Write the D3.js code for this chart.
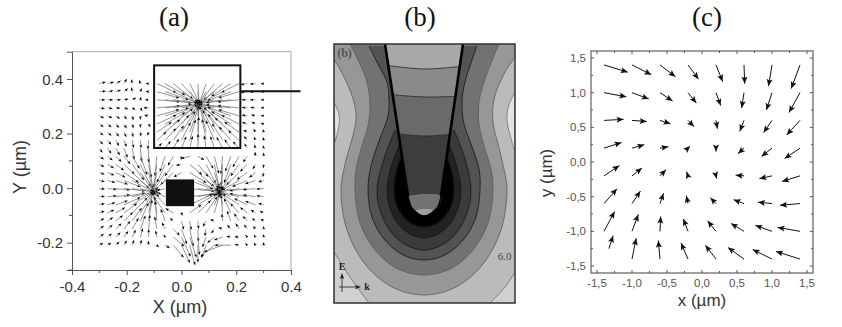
<!DOCTYPE html>
<html><head><meta charset="utf-8">
<script src="https://cdn.jsdelivr.net/npm/d3@7"></script>
<style>html,body{margin:0;padding:0;background:#fff}svg{display:block}</style>
</head><body><svg id="c" width="842" height="327" xmlns="http://www.w3.org/2000/svg"></svg>
<script>
// ---------- panel titles ----------
const panelTitles = ["(a)", "(b)", "(c)"];

// ---------- panel (a) data ----------
const aTicks = [-0.4, -0.2, 0, 0.2, 0.4];
const aTicksY = [-0.2, 0, 0.2, 0.4];
const aLabelsX = ["-0.4", "-0.2", "0.0", "0.2", "0.4"];
const aLabelsY = ["-0.2", "0.0", "0.2", "0.4"];
const aGridX = d3.range(21).map(i => -0.3 + i * 0.03);
const aGridY = d3.range(21).map(j => 0.383 - j * 0.0296);
// arrow direction (degrees, counter-clockwise from +X), row by row from the top
const aAngle = [
[15,15,30,60,100,110,180,-25,-30,-38,-48,-63,-87,-109,-127,-139,-147,-153,190,185,180],
[5,10,20,40,100,70,175,-16,-19,-25,-34,-50,-85,-120,-141,-152,-159,-163,185,182,180],
[0,0,0,10,30,80,180,-5,-7,-9,-13,-22,-76,-150,-165,-170,-173,-174,180,180,180],
[-10,-10,-5,-15,-30,-60,180,5,7,9,13,22,76,150,165,170,173,174,175,175,175],
[-25,-25,-35,-50,-75,-90,170,16,19,25,34,50,85,120,141,152,159,163,170,165,170],
[-35,-40,-50,-60,-75,-90,-60,25,30,38,48,63,87,109,127,139,147,153,160,150,160],
[-40,-45,-55,-65,-80,-85,-110,34,40,47,57,70,88,104,118,129,138,145,150,120,105],
[-50,-50,-60,-70,-80,-85,-95,41,47,54,63,74,88,101,113,122,131,138,130,115,100],
[-55,-55,-60,-70,-80,-85,-90,46,52,59,68,77,89,99,108,118,125,132,120,105,95],
[-33,-38,-44,-51,-59,-70,-83,-96,-109,-120,-95,-165,-30,-60,-75,-95,-110,-120,-125,95,90],
[-27,-31,-36,-43,-53,-65,-80,-98,-114,-126,-170,-40,-50,-63,-78,-94,-110,-125,-135,-120,-95],
[-20,-23,-27,-34,-43,-56,-77,-102,-122,-136,-150,-32,-41,-54,-73,-96,-117,-135,-145,-140,-100],
[-12,-14,-17,-21,-28,-41,-68,-110,-137,0,0,-20,-27,-39,-62,-100,-132,-150,-158,-162,-165],
[-3,-4,-5,-6,-9,-14,-35,-141,-165,0,0,-6,-8,-13,-28,-122,-162,-170,-173,-175,-176],
[5,6,8,10,13,21,48,129,157,0,0,6,13,20,40,110,153,165,170,172,173],
[13,16,19,24,32,45,71,107,133,0,0,25,31,43,65,99,128,146,154,160,163],
[21,25,30,36,45,58,78,101,125,150,-70,35,44,56,74,95,115,132,142,149,154],
[28,33,38,45,54,66,81,95,110,140,-75,-80,-85,-120,160,95,110,123,133,140,146],
[35,40,45,52,60,70,85,100,115,-45,-70,-78,-88,-100,-125,160,130,120,125,130,90],
[35,40,45,55,65,75,90,100,120,-40,-65,-72,-85,-110,-140,-160,170,175,130,120,90],
[30,35,45,60,70,80,95,-45,-30,-50,-65,-75,-90,-110,-140,-160,180,170,135,120,90]
];
// arrow length (thousandths of a micron), 0 where no arrow is visible
const aLength = [
[18,18,16,15,12,10,8,60,65,70,75,75,70,70,75,70,65,55,18,15,8],
[18,16,15,14,12,10,8,65,70,75,70,55,45,55,70,75,70,60,18,15,8],
[16,15,14,12,12,8,10,65,75,75,60,35,15,35,60,75,70,60,15,15,8],
[15,14,12,12,10,10,14,65,75,75,60,35,15,35,60,75,70,60,15,14,8],
[14,14,14,12,12,10,12,65,70,75,70,55,45,55,70,75,70,60,15,12,8],
[14,14,14,14,12,10,10,60,65,70,75,75,70,70,75,70,65,55,15,12,8],
[14,15,15,15,14,12,10,50,55,65,70,75,75,75,70,65,60,50,12,10,8],
[15,16,18,20,22,22,25,35,45,50,55,60,65,60,60,55,50,40,14,10,8],
[15,18,22,28,32,38,40,20,25,30,35,35,40,35,35,35,30,25,15,10,8],
[15,18,22,28,40,55,60,55,45,30,10,25,20,40,50,50,45,35,20,12,10],
[15,20,28,40,55,70,70,65,55,40,15,45,45,60,65,60,55,40,28,15,10],
[15,20,30,50,65,75,60,55,65,50,25,55,60,60,50,50,55,50,35,22,12],
[15,22,35,50,70,70,40,40,50,0,0,70,65,55,25,25,55,55,45,30,15],
[15,25,40,60,75,60,15,20,40,0,0,70,65,45,12,8,45,60,50,35,20],
[15,25,40,60,75,60,15,25,40,0,0,70,65,45,15,15,45,60,50,35,20],
[15,22,35,50,70,70,45,45,50,0,0,70,60,55,40,35,55,55,40,30,15],
[15,20,30,45,60,70,65,60,55,25,8,40,50,55,55,50,45,35,25,15,12],
[15,18,25,35,45,55,60,55,35,12,25,25,22,18,12,20,30,25,18,12,10],
[15,18,22,28,35,40,40,35,20,25,45,50,35,20,15,12,15,18,15,10,8],
[15,15,18,20,22,25,22,18,8,40,60,60,50,30,25,25,12,12,8,8,8],
[12,12,14,15,15,15,12,8,15,45,55,58,48,38,50,55,45,12,8,8,8]
];
const aLengthGain = 1.3;
const aBox = {x0: -0.1, x1: 0.215, y0: 0.147, y1: 0.45};
const aLeader = {x0: 0.215, x1: 0.435, y: 0.355};
const aBlock = {x0: -0.057, x1: 0.046, y0: -0.066, y1: 0.032};

// ---------- panel (b) contour lines, in frame units ----------
const bCornerL = [[0,208],[18,236],[35,259]];
const bCornerR = [[156,259],[171,243],[181,228]];
const bLobeL = [[0,58],[5,71],[5,81],[1,98]];
const bLobeR = [[181,48],[175,61],[173,75],[178,98],[181,108]];
const bK2 = [[0,15],[11,35],[20,58],[22,75],[18,95],[11,120],[7,146],[13,186],[31,220],[58,243],[90,251],[122,243],[149,220],[167,186],[173,146],[170,125],[164,100],[159,78],[160,55],[170,30],[181,13]];
const bK3 = [[16,0],[26,20],[33,38],[36,61],[34,82],[27,105],[22,126],[21,146],[26,179],[41,206],[64,225],[90,231],[116,225],[139,206],[154,179],[159,146],[157,125],[151,105],[145,80],[145,58],[151,35],[165,0]];
const bK4 = [[35,2],[45,22],[53,38],[55,55],[54,72],[45,97],[37,122],[34,146],[38,173],[50,195],[69,211],[90,216],[111,211],[130,195],[142,173],[146,146],[145,125],[137,100],[130,80],[128,58],[131,38],[143,2]];
const bK5 = [[61,86],[50,115],[43,146],[47,169],[57,188],[72,201],[90,206],[108,201],[123,188],[133,169],[137,146],[131,115],[120,86]];
const bK6 = [[66,100],[57,123],[53,146],[56,164],[64,180],[76,190],[90,194],[104,190],[116,180],[124,164],[127,146],[123,123],[115,100]];
const bK7 = [[68,110],[62,128],[60,146],[62,160],[69,172],[78,180],[90,183],[102,180],[111,172],[118,160],[120,146],[118,128],[112,110]];
const bFills = ["#979797", "#727272", "#525252", "#3b3b3b", "#212121", "#060606"];
// probe (tip) outline and the levels seen inside it
const bWallL = [[51,0],[74,152]];
const bWallR = [[129,0],[107,152]];
const bTipCap = [[74,152],[78,164],[90,172],[103,164],[107,152]];
const bLevels = [[[50,21],[91,25],[130,22]], [[50,50],[91,53],[130,52]], [[50,88],[91,92],[130,89]]];
const bLevelFills = ["#a8a8a8", "#8a8a8a", "#6a6a6a", "#3c3c3c"];
const bMouth = [[74,152],[90,150],[107,152],[103,164],[90,172],[78,164]];
const bSliver = [[81,166],[90,165],[99,166],[96,169],[90,172],[84,169]];

// ---------- panel (c) data ----------
const cTicks = [-1.5, -1, -0.5, 0, 0.5, 1, 1.5];
const cLabels = ["-1,5", "-1,0", "-0,5", "0,0", "0,5", "1,0", "1,5"];
const cGridX = [-1.4, -1, -0.6, -0.2, 0.2, 0.6, 1, 1.4];
const cGridY = [1.4, 1, 0.6, 0.2, -0.2, -0.6, -1, -1.4];
const cU = [
[.34,.276,.22,.15,.095,.01,-.05,-.125],
[.32,.24,.18,.12,.067,-.033,-.08,-.157],
[.28,.21,.15,.086,.02,-.06,-.12,-.19],
[.25,.176,.12,.03,0,-.086,-.15,-.22],
[.22,.143,.086,-.02,.01,-.12,-.18,-.257],
[.186,.12,.05,-.024,-.08,-.148,-.2,-.286],
[.152,.09,.01,-.067,-.12,-.186,-.238,-.32],
[.06,.06,-.024,-.1,-.152,-.229,-.276,-.343]
];
const cV = [
[-.105,-.14,-.17,-.205,-.24,-.27,-.305,-.34],
[-.06,-.09,-.12,-.15,-.186,-.22,-.25,-.286],
[.015,-.015,-.05,-.09,-.12,-.157,-.176,-.21],
[.08,.05,.02,.03,-.05,-.08,-.12,-.15],
[.148,.114,.09,.06,-.04,.01,-.04,-.08],
[.214,.18,.15,.114,.086,.057,.02,-.024],
[.286,.243,.214,.18,.152,.114,.086,.057],
[.186,.3,.267,.233,.2,.167,.138,.11]
];
// the bottom-left arrow starts away from its grid node
const cTailShift = {row: 7, col: 0, dx: 0.07, dy: 0.15};

// ---------- drawing ----------
const svg = d3.select("#c");
const defs = svg.append("defs");
defs.append("filter").attr("id","soft").attr("x","-5%").attr("y","-5%").attr("width","110%").attr("height","110%")
  .append("feGaussianBlur").attr("stdDeviation",0.4);
defs.append("filter").attr("id","softB").attr("x","-5%").attr("y","-5%").attr("width","110%").attr("height","110%")
  .append("feGaussianBlur").attr("stdDeviation",0.6);
const SANS = "'Liberation Sans', Arial, sans-serif", SERIF = "'Liberation Serif', 'Times New Roman', serif";

function txt(g, x, y, s, size, fill, font, anchor, extra) {
  const t = g.append("text").attr("x", x).attr("y", y).attr("font-size", size).attr("fill", fill)
    .attr("font-family", font).attr("text-anchor", anchor || "middle").text(s);
  if (extra) extra(t);
  return t;
}
[[174,26],[420,26],[707,26]].forEach((p, i) => txt(svg, p[0], p[1], panelTitles[i], 27, "#111", SERIF));

function head(g, x1, y1, x2, y2, len, half, fill) {
  const a = Math.atan2(y2 - y1, x2 - x1), c = Math.cos(a), s = Math.sin(a);
  g.append("path").attr("fill", fill)
   .attr("d", `M${x2},${y2}L${x2 - len*c + half*s},${y2 - len*s - half*c}L${x2 - len*.8*c},${y2 - len*.8*s}L${x2 - len*c - half*s},${y2 - len*s + half*c}Z`);
}

// ---- panel (a)
{
  const x = d3.scaleLinear().domain([-0.4, 0.4]).range([72, 291]);
  const y = d3.scaleLinear().domain([-0.3, 0.5]).range([270, 51.7]);
  const g = svg.append("g");
  g.append("line").attr("x1",x(-0.4)).attr("x2",x(0.4)).attr("y1",y(0.5)).attr("y2",y(0.5)).attr("stroke","#aaa").attr("stroke-width",1);
  g.append("line").attr("x1",x(0.4)).attr("x2",x(0.4)).attr("y1",y(0.5)).attr("y2",y(-0.3)).attr("stroke","#aaa").attr("stroke-width",1);
  const axB = d3.axisBottom(x).tickValues(aTicks).tickSize(5).tickFormat((d,i)=>aLabelsX[i]);
  const axL = d3.axisLeft(y).tickValues(aTicksY).tickSize(5).tickFormat((d,i)=>aLabelsY[i]);
  const gb = g.append("g").attr("transform",`translate(0,${y(-0.3)})`).call(axB);
  const gl = g.append("g").attr("transform",`translate(${x(-0.4)},0)`).call(axL);
  [gb,gl].forEach(a=>{
    a.selectAll("path").attr("stroke","#555").attr("stroke-width",1);
    a.selectAll("line").attr("stroke","#555");
    a.selectAll("text").attr("font-family",SANS).attr("font-size",15).attr("fill","#333");
  });
  gb.selectAll("text").attr("dy",null).attr("y",22);
  gl.selectAll("text").attr("x",-9).attr("dy","0.35em");
  d3.range(-0.3,0.41,0.2).forEach(v=>{
    g.append("line").attr("x1",x(v)).attr("x2",x(v)).attr("y1",y(-0.3)).attr("y2",y(-0.3)+3).attr("stroke","#555");
    g.append("line").attr("y1",y(v)).attr("y2",y(v)).attr("x1",x(-0.4)).attr("x2",x(-0.4)-3).attr("stroke","#555");
  });
  txt(g, 180, 313, "X (µm)", 18, "#333", SANS);
  txt(g, 0, 0, "Y (µm)", 18, "#333", SANS, "middle", t=>t.attr("transform","translate(26,167) rotate(-90)"));

  const f = g.append("g").attr("filter","url(#soft)");
  aGridY.forEach((gy,j)=>aGridX.forEach((gx,i)=>{
    const L = aLength[j][i]*aLengthGain; if (!L) return;
    const r = aAngle[j][i]*Math.PI/180;
    const u = L/1000*Math.cos(r), v = L/1000*Math.sin(r);
    const x1=x(gx), y1=y(gy), x2=x(gx+u), y2=y(gy+v);
    f.append("line").attr("x1",x1).attr("y1",y1).attr("x2",x2).attr("y2",y2).attr("stroke","#7a7a7a").attr("stroke-width",0.8);
    head(f,x1,y1,x2,y2,3.2,1.4,"#000");
  }));
  g.append("rect").attr("x",x(aBlock.x0)).attr("y",y(aBlock.y1)).attr("width",x(aBlock.x1)-x(aBlock.x0)).attr("height",y(aBlock.y0)-y(aBlock.y1)).attr("fill","#111");
  g.append("rect").attr("x",x(aBox.x0)).attr("y",y(aBox.y1)).attr("width",x(aBox.x1)-x(aBox.x0)).attr("height",y(aBox.y0)-y(aBox.y1)).attr("fill","none").attr("stroke","#111").attr("stroke-width",2);
  g.append("line").attr("x1",x(aLeader.x0)).attr("x2",x(aLeader.x1)).attr("y1",y(aLeader.y)).attr("y2",y(aLeader.y)).attr("stroke","#111").attr("stroke-width",2);
}

// ---- panel (b)
{
  const x = d3.scaleLinear().domain([0,181]).range([334,515]);
  const y = d3.scaleLinear().domain([0,259]).range([44,303]);
  const curve = d3.line().x(d=>x(d[0])).y(d=>y(d[1])).curve(d3.curveCatmullRom.alpha(0.5));
  defs.append("clipPath").attr("id","frameB").append("rect").attr("x",x(0)).attr("y",y(0)).attr("width",x(181)-x(0)).attr("height",y(259)-y(0));
  const tipShape = [bWallL[0], bWallL[1], bWallR[1], bWallR[0]];
  const straight = d3.line().x(d=>x(d[0])).y(d=>y(d[1]));
  defs.append("clipPath").attr("id","tipB").append("path").attr("d",straight(tipShape)+"Z");
  const outer = svg.append("g").attr("filter","url(#softB)");
  const g = outer.append("g").attr("clip-path","url(#frameB)");
  g.append("rect").attr("x",x(0)).attr("y",y(0)).attr("width",x(181)-x(0)).attr("height",y(259)-y(0)).attr("fill","#bbb");
  const edge = "#6a6a6a";
  g.append("path").attr("d",curve(bCornerL)+`L${x(0)},${y(259)}Z`).attr("fill","#d0d0d0");
  g.append("path").attr("d",curve(bCornerL)).attr("fill","none").attr("stroke",edge).attr("stroke-width",.8);
  g.append("path").attr("d",curve(bCornerR)+`L${x(181)},${y(259)}Z`).attr("fill","#d0d0d0");
  g.append("path").attr("d",curve(bCornerR)).attr("fill","none").attr("stroke",edge).attr("stroke-width",.8);
  g.append("path").attr("d",curve(bLobeL)+"Z").attr("fill","#e2e2e2").attr("stroke",edge).attr("stroke-width",.7);
  g.append("path").attr("d",curve(bLobeR)+"Z").attr("fill","#e2e2e2").attr("stroke",edge).attr("stroke-width",.7);
  [bK2,bK3,bK4,bK5,bK6,bK7].forEach((k,i)=>{
    const closing = i===0 ? `L${x(181)},${y(0)}L${x(0)},${y(0)}Z` : "Z";
    g.append("path").attr("d",curve(k)+closing).attr("fill",bFills[i]);
    g.append("path").attr("d",curve(k)).attr("fill","none").attr("stroke", i<2?"#5a5a5a":"#161616").attr("stroke-width",.8);
  });
  // probe interior
  const tip = g.append("g").attr("clip-path","url(#tipB)");
  tip.append("rect").attr("x",x(40)).attr("y",y(0)).attr("width",x(140)-x(40)).attr("height",y(160)-y(0)).attr("fill",bLevelFills[0]);
  bLevels.forEach((lv,i)=>{
    const d = curve(lv)+`L${x(130)},${y(160)}L${x(50)},${y(160)}Z`;
    tip.append("path").attr("d",d).attr("fill",bLevelFills[i+1]);
    tip.append("path").attr("d",curve(lv)).attr("fill","none").attr("stroke","#303030").attr("stroke-width",.9);
  });
  g.append("path").attr("d",curve(bTipCap)).attr("fill","#000");
  g.append("path").attr("d",curve(bMouth)+"Z").attr("fill","#727272");
  g.append("path").attr("d",curve(bSliver)+"Z").attr("fill","#a0a0a0");
  [bWallL,bWallR].forEach(w=>g.append("path").attr("d",straight(w)).attr("stroke","#000").attr("stroke-width",2.6).attr("fill","none"));
  g.append("path").attr("d",curve(bTipCap)).attr("fill","none").attr("stroke","#000").attr("stroke-width",1.4);
  outer.append("rect").attr("x",x(0)).attr("y",y(0)).attr("width",x(181)-x(0)).attr("height",y(259)-y(0)).attr("fill","none").attr("stroke","#333").attr("stroke-width",1.5);

  txt(svg, 344.5, 57, "(b)", 12, "#555", SERIF, "middle", t=>t.attr("font-weight","bold"));
  txt(svg, 504.5, 260, "6.0", 11, "#444", SERIF);
  txt(svg, 342, 270, "E", 10, "#222", SERIF, "middle", t=>t.attr("font-weight","bold"));
  txt(svg, 367, 290, "k", 10, "#222", SERIF, "middle", t=>t.attr("font-weight","bold"));
  svg.append("line").attr("x1",342).attr("x2",342).attr("y1",292).attr("y2",276).attr("stroke","#333").attr("stroke-width",.9);
  svg.append("line").attr("x1",339).attr("x2",358).attr("y1",287).attr("y2",287).attr("stroke","#333").attr("stroke-width",.9);
  head(svg,342,292,342,273,6,2.2,"#222");
  head(svg,339,287,361,287,6,2.2,"#222");
}

// ---- panel (c)
{
  const x = d3.scaleLinear().domain([-1.5,1.5]).range([597,807]);
  const y = d3.scaleLinear().domain([-1.5,1.5]).range([266,58]);
  const g = svg.append("g");
  const X0=591, X1=813, Y0=51, Y1=273;
  g.append("rect").attr("x",X0).attr("y",Y0).attr("width",X1-X0).attr("height",Y1-Y0).attr("fill","none").attr("stroke","#777").attr("stroke-width",1.4);
  d3.range(-1.5,1.51,0.25).forEach((v,i)=>{
    const l = i%2===0 ? 3 : 2;
    g.append("line").attr("x1",x(v)).attr("x2",x(v)).attr("y1",Y1).attr("y2",Y1-l).attr("stroke","#555");
    g.append("line").attr("x1",x(v)).attr("x2",x(v)).attr("y1",Y0).attr("y2",Y0+l).attr("stroke","#555");
    g.append("line").attr("y1",y(v)).attr("y2",y(v)).attr("x1",X0).attr("x2",X0+l).attr("stroke","#555");
    g.append("line").attr("y1",y(v)).attr("y2",y(v)).attr("x1",X1).attr("x2",X1-l).attr("stroke","#555");
  });
  cTicks.forEach((v,i)=>{
    txt(g,x(v),287,cLabels[i],11.5,"#555",SANS);
    txt(g,586,y(v)+4,cLabels[i],11.5,"#555",SANS,"end");
  });
  txt(g,702,306,"x (µm)",17,"#333",SANS);
  txt(g,0,0,"y (µm)",17,"#333",SANS,"middle",t=>t.attr("transform","translate(552,173) rotate(-90)"));
  cGridY.forEach((gy,j)=>cGridX.forEach((gx,i)=>{
    const sh = (j===cTailShift.row && i===cTailShift.col) ? cTailShift : {dx:0,dy:0};
    const tx = gx+sh.dx, ty = gy+sh.dy;
    const x1=x(tx), y1=y(ty), x2=x(tx+cU[j][i]), y2=y(ty+cV[j][i]);
    g.append("line").attr("x1",x1).attr("y1",y1).attr("x2",x2).attr("y2",y2).attr("stroke","#111").attr("stroke-width",1);
    head(g,x1,y1,x2,y2,7,3,"#111");
  }));
}
</script></body></html>
